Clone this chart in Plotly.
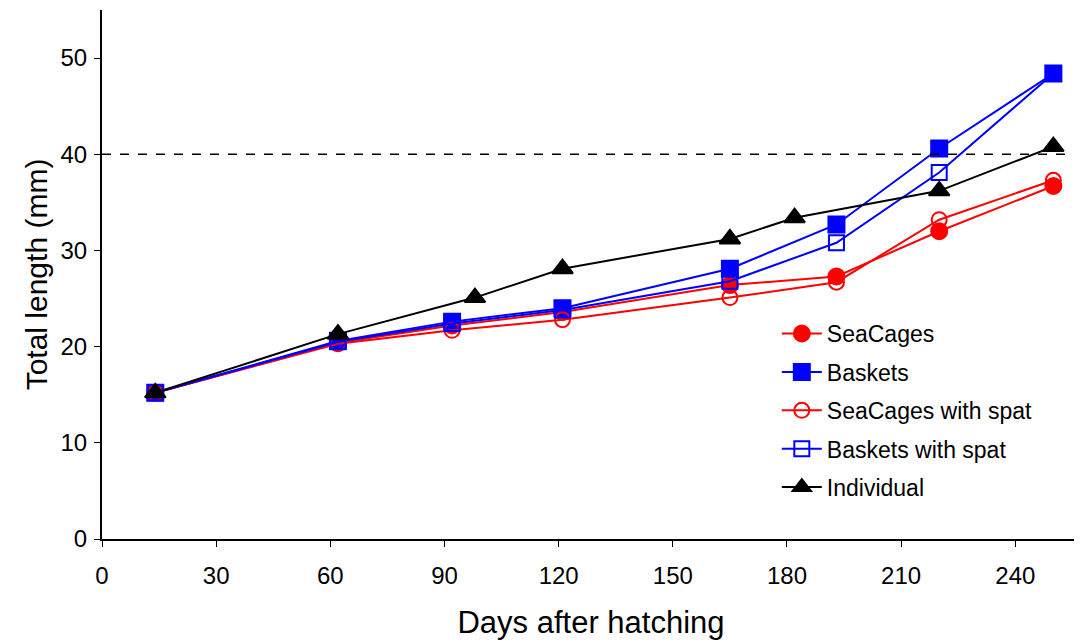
import plotly.graph_objects as go

days = [14, 62, 92, 121, 165, 193, 220, 250]
seacages = [15.2, 20.4, 22.2, 23.6, 26.4, 27.3, 32.0, 36.7]
baskets = [15.2, 20.6, 22.6, 24.0, 28.1, 32.7, 40.6, 48.4]
seacages_spat = [15.2, 20.3, 21.7, 22.8, 25.1, 26.7, 33.2, 37.3]
baskets_spat = [15.2, 20.5, 22.4, 23.8, 26.8, 30.8, 38.1, 48.4]
days_ind = [14, 62, 98, 121, 165, 182, 220, 250]
individual = [15.2, 21.3, 25.1, 28.1, 31.2, 33.4, 36.2, 40.8]
threshold = 40

fig = go.Figure()

def add(x, y, name, color, symbol, size):
    fig.add_trace(go.Scatter(
        x=x, y=y, name=name, mode="lines+markers", legendgroup=name,
        line=dict(color=color, width=2),
        marker=dict(symbol=symbol, size=size, color=color,
                    line=dict(color=color, width=2)),
    ))

add(days, seacages, "SeaCages", "#ff0000", "circle", 16)
add(days, baskets, "Baskets", "#0000ff", "square", 16)
add(days, seacages_spat, "SeaCages with spat", "#ff0000", "circle-open", 15)
add(days, baskets_spat, "Baskets with spat", "#0000ff", "square-open", 15)
add(days_ind, individual, "Individual", "#000000", "triangle-up", 18)

fig.add_shape(type="line", xref="paper", x0=0, x1=1, yref="y", y0=threshold, y1=threshold,
              line=dict(color="black", width=1.5, dash="dash"))

font = "Liberation Sans, Arial, sans-serif"
fig.update_layout(
    width=1082, height=644,
    margin=dict(l=94, r=10, t=2, b=113),
    paper_bgcolor="white", plot_bgcolor="white",
    font=dict(family=font, color="black", size=23),
    showlegend=True,
    legend=dict(x=0.69, y=0.429, xanchor="left", yanchor="top",
                bgcolor="rgba(0,0,0,0)", font=dict(size=23),
                tracegroupgap=5.5, itemwidth=40),
    xaxis=dict(range=[0, 257], tickvals=[0, 30, 60, 90, 120, 150, 180, 210, 240],
               showgrid=False, zeroline=False, showline=True, linecolor="black", linewidth=2,
               ticks="outside", ticklen=6, tickwidth=1, tickcolor="black",
               tickfont=dict(size=24), ticklabelstandoff=8,
               title=dict(text="Days after hatching", font=dict(size=31), standoff=24)),
    yaxis=dict(range=[0, 55], tickvals=[0, 10, 20, 30, 40, 50],
               showgrid=False, zeroline=False, showline=True, linecolor="black", linewidth=2,
               ticks="outside", ticklen=6, tickwidth=1, tickcolor="black",
               tickfont=dict(size=24), ticklabelstandoff=2,
               title=dict(text="Total length (mm)", font=dict(size=30), standoff=4)),
)

fig.write_html("out.html")
